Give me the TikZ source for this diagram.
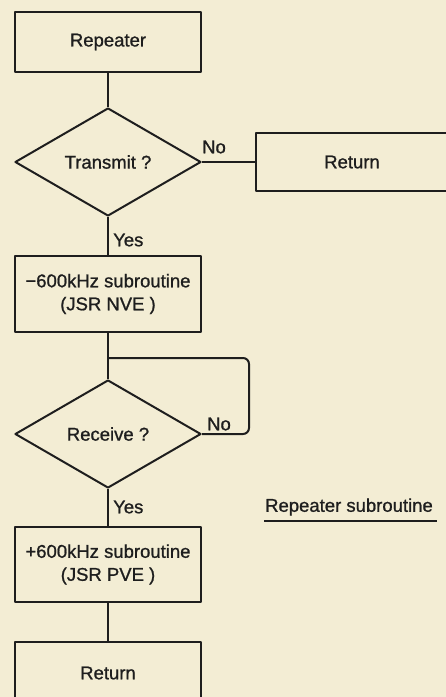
\documentclass[tikz,border=0pt]{standalone}
\usepackage{fontspec}
\setmainfont{Liberation Sans}[FakeBold=1]
\usetikzlibrary{shapes.geometric}
\definecolor{paper}{HTML}{F3EDD4}
\definecolor{ink}{HTML}{1E1E1E}
\begin{document}
\begin{tikzpicture}[
        x=1pt, y=-1pt,
        line join=round,
        every node/.style={text=ink, font=\fontsize{18.5}{23}\selectfont},
        stepbox/.style={draw=ink, line width=2pt, rectangle, inner sep=0pt,
            minimum width=186pt, align=center},
        testbox/.style={draw=ink, line width=2pt, diamond, inner sep=0pt,
            aspect=1.72, minimum width=186pt, minimum height=108pt},
        link/.style={draw=ink, line width=2pt},
        tag/.style={inner sep=1pt},
    ]

    % 背景与页面大小
    \fill[paper] (0,0) rectangle (446,697);
    \useasboundingbox (0,0) rectangle (446,697);

    % ---- 流程框 ----
    \node[stepbox, minimum height=60pt] (rep) at (108,42) {Repeater};
    \node[testbox] (tx) at (108,162) {Transmit ?};
    \node[stepbox, minimum width=192pt, minimum height=58pt] (ret1) at (352,162) {Return};
    \node[stepbox, minimum height=76pt] (nve) at (108,294) {\symbol{"2212}600kHz subroutine\\(JSR NVE )};
    \node[testbox] (rx) at (108,434) {Receive ?};
    \node[stepbox, minimum height=75pt] (pve) at (108,564.5) {+600kHz subroutine\\(JSR PVE )};
    \node[stepbox, minimum height=62pt] (ret2) at (108,673) {Return};

    % 回路的转折点
    \coordinate (jn) at (108,358);
    \coordinate (loop) at (249,358);

    % ---- 连线 ----
    \draw[link] (rep.south) -- (tx.north);
    \draw[link] (tx.east) -- (ret1.west);
    \draw[link] (tx.south) -- (nve.north);
    \draw[link] (nve.south) -- (rx.north);
    \draw[link, rounded corners=6pt] (rx.east) -| (loop) -- (jn);
    \draw[link] (rx.south) -- (pve.north);
    \draw[link] (pve.south) -- (ret2.north);

    % 标签
    \node[tag] (no1) at (214,147) {No};
    \node[tag, anchor=west] (yes1) at (112,240) {Yes};
    \node[tag] (no2) at (219,424) {No};
    \node[tag, anchor=west] (yes2) at (112,507) {Yes};

    % ---- 标题 ----
    \node[tag] (title) at (349,507) {Repeater subroutine};
    \draw[link, line width=1.4pt] (264,521) -- (437,521);

\end{tikzpicture}
\end{document}
